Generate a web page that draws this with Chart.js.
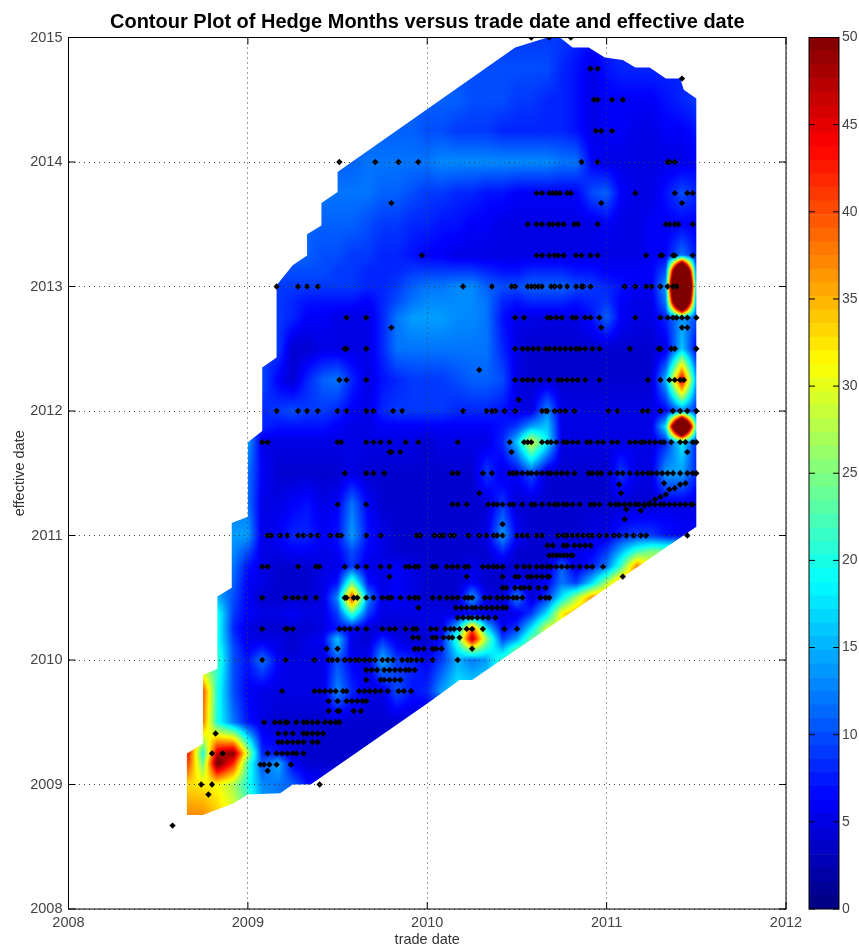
<!DOCTYPE html>
<html>
<head>
<meta charset="utf-8">
<title>Hedge Months</title>
<script src="https://cdn.jsdelivr.net/npm/chart.js@4"></script>
<style>
html, body { margin: 0; padding: 0; background: #fff; }
#wrap { position: relative; width: 859px; height: 945px; overflow: hidden; }
canvas { position: absolute; top: 0; }
</style>
</head>
<body>
<div id="wrap">
<canvas id="contourChart" width="859" height="945" style="left:0"></canvas>
<canvas id="barChart" width="59" height="945" style="left:800px"></canvas>
</div>
<script>
// monthly trade dates (columns of the field)
const tradeDates = [2008.67, 2008.75, 2008.83, 2008.92, 2009, 2009.08, 2009.17, 2009.25, 2009.33, 2009.42, 2009.5, 2009.58,
    2009.67, 2009.75, 2009.83, 2009.92, 2010, 2010.08, 2010.17, 2010.25, 2010.33, 2010.42, 2010.5, 2010.58,
    2010.67, 2010.75, 2010.83, 2010.92, 2011, 2011.08, 2011.17, 2011.25, 2011.33, 2011.42, 2011.5];

// effective dates (rows of the field)
const effectiveDates = [2008.75, 2009, 2009.17, 2009.25, 2009.5, 2009.75, 2010, 2010.08, 2010.17, 2010.25, 2010.37, 2010.5, 2010.62, 2010.75, 2010.87,
    2011, 2011.25, 2011.5, 2011.75, 2011.875, 2012, 2012.25, 2012.5, 2012.75, 2012.875, 2013, 2013.125, 2013.25,
    2013.5, 2013.75, 2014, 2014.25, 2014.5, 2014.75, 2015];

// hedge months, one row per effective date
const hedgeMonths = [
    [37,37,34,30,25,15,13,12,10,8,8,7, 7,7,7,7,7,7,7,7,7,7,7,7, 7,7,7,7,7,7,7,7,7,7,7],
    [33,32,31,27,20,13,12,11,7,6,6,6, 6,6,6,6,6,6,6,6,6,6,6,6, 6,6,6,6,6,6,6,6,6,6,6],
    [40,24,52,42,22,10,15,6,4,4,4,3, 4,4,4,4,4,4,4,4,4,4,4,4, 4,4,4,4,4,4,4,4,4,4,4],
    [42,20,47,50,28,8,7,5,4,4,4,4, 4,4,4,4,4,4,4,4,4,4,4,4, 4,4,4,4,4,4,4,4,4,4,4],
    [38,38,20,12,7,5,4,4,4,4,4,4, 4,4,4,4,4,4,4,4,4,4,4,4, 4,4,4,4,4,4,4,4,4,4,4],
    [40,40,20,10,6,5,5,5,5,5,13,8, 5,5,10,7,8,14,18,18,18,18,18,18, 18,18,18,18,18,18,18,18,18,18,18],
    [22,22,22,10,7,12,6,5,5,5,10,6, 5,15,9,8,6,9,15,12,14,22,22,22, 22,22,22,22,22,22,22,22,22,22,22],
    [21,21,21,10,6,8,5,4,5,5,14,5, 5,12,7,6,5,8,18,26,20,16,24,24, 24,24,24,24,24,24,24,24,24,24,24],
    [20,20,20,9,5,5,5,4,5,6,16,5, 4,8,5,4,4,7,22,48,26,9,14,24, 24,24,24,24,24,24,24,24,24,24,24],
    [20,20,20,8,5,4,4,4,4,5,7,6, 4,4,4,4,5,5,17,40,18,6,9,18, 30,30,30,30,30,30,30,30,30,30,30],
    [20,20,20,9,6,5,5,6,5,5,9,22, 9,5,5,5,5,5,5,6,5,5,5,9, 18,32,36,36,36,36,36,36,36,36,36],
    [15,15,15,10,6,4,4,4,4,5,13,42, 13,5,6,5,4,4,4,14,5,4,13,4, 9,18,27,37,37,37,37,37,37,37,37],
    [13,13,13,11,6,5,4,4,4,5,7,24, 7,5,6,5,4,4,4,6,4,4,6,4, 6,12,9,17,27,37,37,37,37,37,37],
    [12,12,12,12,7,5,4,4,4,5,5,9, 5,5,6,5,4,4,4,5,4,4,4,4, 4,11,5,8,12,22,38,30,25,25,25],
    [13,13,13,13,10,5,5,6,6,5,6,10, 6,5,4,4,4,4,4,4,4,8,4,4, 4,5,5,6,9,15,22,25,25,25,25],
    [14,14,14,14,14,5,6,8,8,6,7,14, 7,5,4,4,4,4,4,4,5,14,6,4, 4,4,4,5,5,8,9,9,7,6,6],
    [12,12,12,12,12,5,5,6,7,5,6,12, 6,4,4,4,4,4,4,4,4,9,4,4, 4,4,4,4,4,4,4,4,5,5,5],
    [12,12,12,12,12,6,4,4,4,4,4,5, 4,4,4,4,4,4,4,4,9,5,6,10, 4,4,4,4,4,9,5,5,14,14,8],
    [14,14,14,14,14,5,5,5,5,5,5,5, 5,5,5,5,4,5,5,5,5,8,16,30, 18,5,5,5,5,5,5,5,8,18,8],
    [10,10,10,10,10,8,7,7,7,7,6,5, 5,6,6,6,6,6,6,6,6,7,9,14, 16,5,5,5,5,5,5,5,18,95,20],
    [8,8,8,8,8,8,9,10,9,9,8,6, 5,8,9,9,9,9,8,8,8,7,5,5, 13,5,5,5,5,5,5,5,6,12,8],
    [10,10,10,10,10,10,6,4,8,11,12,8, 5,7,8,9,9,9,10,11,11,10,5,4, 4,4,4,4,4,4,4,4,15,46,14],
    [9,9,9,9,9,9,9,4,4,5,5,5, 5,8,12,12,12,12,12,12,12,8,5,4, 4,4,4,4,4,4,4,4,5,16,6],
    [9,9,9,9,9,9,9,8,6,6,5,5, 5,8,12,14,14,14,13,13,12,7,5,5, 5,5,5,7,11,6,5,5,8,14,10],
    [9,9,9,9,9,9,9,8,7,7,7,7, 6,8,10,12,13,13,13,13,12,8,7,8, 8,8,7,8,9,6,5,5,12,95,12],
    [9,9,9,9,9,9,9,9,9,9,9,9, 8,8,9,11,12,12,13,13,11,10,10,11, 11,11,10,9,8,7,6,6,14,130,14],
    [10,10,10,10,10,10,10,10,10,10,9,9, 8,8,8,9,9,9,9,9,8,7,7,8, 8,8,7,7,6,6,6,6,10,95,10],
    [11,11,11,11,11,11,11,11,11,10,10,9, 9,8,8,7,6,6,5,5,5,5,5,5, 5,5,5,5,5,5,5,6,6,12,7],
    [11,11,11,11,11,11,11,11,11,11,11,11, 10,9,9,8,8,7,7,6,6,5,5,5, 5,5,5,5,6,5,5,6,6,6,6],
    [12,12,12,12,12,12,12,12,12,12,12,12, 12,11,11,10,9,9,8,8,7,7,6,6, 6,6,6,10,11,6,5,5,7,10,8],
    [11,11,11,11,11,11,11,11,11,11,11,11, 12,12,12,12,12,13,13,13,13,13,13,13, 13,12,12,6,5,5,5,5,5,5,6],
    [11,11,11,11,11,11,11,11,11,11,11,11, 11,11,11,11,10,10,9,9,9,8,8,8, 8,8,7,5,6,6,5,5,6,6,7],
    [11,11,11,11,11,11,11,11,11,11,11,11, 11,11,11,11,11,11,11,10,10,10,9,9, 8,8,7,5,6,6,6,6,7,8,9],
    [10,10,10,10,10,10,10,10,10,10,10,10, 10,10,10,10,10,10,10,10,10,10,10,10, 10,8,7,5,7,8,8,8,8,8,8],
    [9,9,9,9,9,9,9,9,9,9,9,9, 9,9,9,9,9,9,9,9,9,9,9,9, 9,9,8,7,8,8,8,8,8,8,8]
];

// outline of the filled area
const outlineTrade = [2008.66, 2008.75, 2008.92, 2009.0, 2009.18, 2009.25, 2009.35, 2010.02, 2010.18, 2010.25, 2011.5, 2011.5,
    2011.43, 2011.41, 2011.33, 2011.24, 2011.16, 2011.09, 2010.99, 2010.9, 2010.81, 2010.74, 2010.67, 2010.49, 2009.5, 2009.5,
    2009.41, 2009.41, 2009.33, 2009.33, 2009.25, 2009.16, 2009.16, 2009.08, 2009.08, 2009.0, 2009.0, 2008.91, 2008.91,
    2008.83, 2008.83, 2008.75, 2008.75, 2008.66];
const outlineEffective = [2008.755, 2008.755, 2008.85, 2008.92, 2008.93, 2009.0, 2009.0, 2009.67, 2009.84, 2009.84, 2011.07, 2014.51,
    2014.58, 2014.67, 2014.67, 2014.76, 2014.76, 2014.82, 2014.84, 2014.92, 2014.92, 2015.0, 2015.0, 2014.92, 2013.92, 2013.76,
    2013.67, 2013.49, 2013.42, 2013.25, 2013.17, 2013.01, 2012.43, 2012.35, 2011.84, 2011.75, 2011.15, 2011.1, 2010.58,
    2010.51, 2009.93, 2009.88, 2009.33, 2009.25];

// observed trades: one effective date and the trade dates seen there
const dotEffective = [2015, 2014.75, 2014.67, 2014.5, 2014.25, 2014, 2013.75, 2013.67, 2013.5, 2013.25, 2013, 2012.75, 2012.67,
    2012.5, 2012.33, 2012.25, 2012.09, 2012, 2011.75, 2011.67, 2011.5, 2011.25, 2011, 2010.92, 2010.84, 2010.75, 2010.67, 2010.58,
    2010.5, 2010.42, 2010.34, 2010.25, 2010.18, 2010.09, 2010, 2009.92, 2009.84, 2009.75, 2009.67, 2009.59, 2009.5, 2009.41, 2009.34,
    2009.25, 2009.16, 2009.11, 2009, 2008.92, 2008.67];
const dotTrades = [
    [2010.58, 2010.68, 2010.8],
    [2010.91, 2010.95],
    [2011.42],
    [2010.93, 2010.95, 2011.03, 2011.09],
    [2010.94, 2010.97, 2011.03],
    [2009.51, 2009.71, 2009.84, 2009.95, 2010.86, 2010.95, 2011.34, 2011.35, 2011.38],
    [2010.61, 2010.64, 2010.68, 2010.7, 2010.72, 2010.74, 2010.78, 2010.8, 2011.16, 2011.38, 2011.45, 2011.48],
    [2009.8, 2010.97, 2011.42],
    [2010.56, 2010.61, 2010.64, 2010.68, 2010.7, 2010.73, 2010.76, 2010.82, 2010.84, 2010.95, 2011.33, 2011.35, 2011.38, 2011.4, 2011.48],
    [2009.97, 2010.61, 2010.64, 2010.68, 2010.71, 2010.73, 2010.76, 2010.83, 2010.86, 2010.91, 2010.95, 2011.22, 2011.3, 2011.31, 2011.37, 2011.38, 2011.48],
    [2009.16, 2009.28, 2009.33, 2009.39, 2010.2, 2010.36, 2010.47, 2010.49, 2010.56, 2010.58, 2010.6, 2010.62, 2010.64, 2010.69, 2010.71, 2010.74, 2010.78, 2010.83, 2010.86, 2010.87, 2010.91, 2011.1, 2011.16, 2011.22, 2011.25, 2011.3, 2011.34, 2011.37, 2011.39],
    [2009.55, 2009.66, 2010.49, 2010.54, 2010.67, 2010.69, 2010.72, 2010.75, 2010.81, 2010.83, 2010.88, 2010.91, 2010.96, 2011.16, 2011.3, 2011.34, 2011.37, 2011.39, 2011.42, 2011.45, 2011.5],
    [2009.8, 2010.97, 2011.42, 2011.45],
    [2009.54, 2009.55, 2009.66, 2010.49, 2010.53, 2010.56, 2010.59, 2010.62, 2010.66, 2010.68, 2010.71, 2010.74, 2010.77, 2010.8, 2010.83, 2010.85, 2010.88, 2010.92, 2010.96, 2011.13, 2011.29, 2011.3, 2011.36, 2011.38, 2011.5],
    [2010.29],
    [2009.51, 2009.55, 2009.66, 2010.49, 2010.53, 2010.56, 2010.59, 2010.63, 2010.68, 2010.73, 2010.75, 2010.78, 2010.81, 2010.84, 2010.88, 2010.96, 2011.23, 2011.3, 2011.35, 2011.38, 2011.41, 2011.43],
    [2010.51],
    [2009.16, 2009.28, 2009.33, 2009.39, 2009.5, 2009.55, 2009.66, 2009.7, 2009.81, 2009.86, 2010.2, 2010.33, 2010.36, 2010.38, 2010.43, 2010.49, 2010.64, 2010.66, 2010.67, 2010.71, 2010.74, 2010.77, 2010.82, 2011.01, 2011.06, 2011.2, 2011.23, 2011.3, 2011.37, 2011.41, 2011.45, 2011.5],
    [2009.08, 2009.11, 2009.5, 2009.52, 2009.66, 2009.7, 2009.74, 2009.79, 2009.88, 2009.95, 2010.17, 2010.46, 2010.54, 2010.56, 2010.58, 2010.64, 2010.67, 2010.69, 2010.72, 2010.76, 2010.78, 2010.81, 2010.84, 2010.89, 2010.91, 2010.95, 2010.98, 2011.03, 2011.06, 2011.13, 2011.16, 2011.19, 2011.21, 2011.24, 2011.27, 2011.3, 2011.32, 2011.36, 2011.41, 2011.44, 2011.48, 2011.5],
    [2009.79, 2009.8, 2009.85, 2010.47, 2011.45],
    [2009.54, 2009.66, 2009.7, 2009.76, 2010.14, 2010.17, 2010.31, 2010.36, 2010.46, 2010.48, 2010.5, 2010.53, 2010.56, 2010.58, 2010.61, 2010.64, 2010.67, 2010.69, 2010.72, 2010.75, 2010.78, 2010.82, 2010.9, 2010.92, 2010.95, 2010.97, 2011.02, 2011.06, 2011.09, 2011.13, 2011.17, 2011.2, 2011.23, 2011.25, 2011.28, 2011.31, 2011.34, 2011.37, 2011.41, 2011.45, 2011.48, 2011.5],
    [2009.5, 2009.66, 2010.14, 2010.17, 2010.22, 2010.34, 2010.37, 2010.39, 2010.42, 2010.46, 2010.48, 2010.53, 2010.58, 2010.6, 2010.64, 2010.68, 2010.71, 2010.73, 2010.76, 2010.78, 2010.81, 2010.85, 2010.91, 2010.93, 2010.96, 2011.02, 2011.05, 2011.07, 2011.1, 2011.13, 2011.16, 2011.18, 2011.21, 2011.24, 2011.27, 2011.3, 2011.32, 2011.35, 2011.38, 2011.41, 2011.44, 2011.47, 2011.48],
    [2009.11, 2009.13, 2009.18, 2009.22, 2009.28, 2009.31, 2009.35, 2009.39, 2009.46, 2009.5, 2009.52, 2009.66, 2009.74, 2009.94, 2009.96, 2010.04, 2010.07, 2010.09, 2010.13, 2010.15, 2010.23, 2010.29, 2010.33, 2010.37, 2010.39, 2010.42, 2010.5, 2010.53, 2010.56, 2010.61, 2010.64, 2010.73, 2010.76, 2010.78, 2010.81, 2010.84, 2010.87, 2010.9, 2010.92, 2010.96, 2011.0, 2011.04, 2011.07, 2011.11, 2011.15, 2011.19, 2011.22, 2011.45],
    [2010.67, 2010.7, 2010.76, 2010.78, 2010.82, 2010.85, 2010.88, 2010.91],
    [2010.68, 2010.7, 2010.72, 2010.74, 2010.76, 2010.78, 2010.8, 2010.81],
    [2009.08, 2009.11, 2009.28, 2009.38, 2009.4, 2009.54, 2009.61, 2009.66, 2009.74, 2009.79, 2009.88, 2009.9, 2009.93, 2009.95, 2010.03, 2010.05, 2010.11, 2010.14, 2010.17, 2010.21, 2010.23, 2010.31, 2010.34, 2010.37, 2010.39, 2010.42, 2010.5, 2010.54, 2010.57, 2010.61, 2010.64, 2010.67, 2010.69, 2010.72, 2010.75, 2010.78, 2010.81, 2010.85, 2010.89, 2010.92, 2010.98],
    [2009.79, 2010.22, 2010.42, 2010.49, 2010.51, 2010.56, 2010.58, 2010.61, 2010.64, 2010.67, 2010.68, 2011.09],
    [2010.42, 2010.44, 2010.49, 2010.52, 2010.54, 2010.57, 2010.62, 2010.66],
    [2009.08, 2009.21, 2009.25, 2009.28, 2009.32, 2009.38, 2009.54, 2009.55, 2009.59, 2009.61, 2009.66, 2009.7, 2009.75, 2009.78, 2009.8, 2009.85, 2009.9, 2009.93, 2009.95, 2010.03, 2010.07, 2010.11, 2010.14, 2010.17, 2010.21, 2010.23, 2010.25, 2010.32, 2010.35, 2010.39, 2010.42, 2010.45, 2010.48, 2010.5, 2010.53, 2010.63, 2010.66, 2010.68],
    [2009.95, 2010.16, 2010.19, 2010.22, 2010.25, 2010.27, 2010.3, 2010.33, 2010.36, 2010.39, 2010.42, 2010.44],
    [2010.17, 2010.2, 2010.23, 2010.25, 2010.28, 2010.31, 2010.34, 2010.38],
    [2009.08, 2009.21, 2009.22, 2009.25, 2009.51, 2009.54, 2009.57, 2009.61, 2009.66, 2009.75, 2009.79, 2009.82, 2009.88, 2009.92, 2009.94, 2010.02, 2010.05, 2010.1, 2010.13, 2010.15, 2010.18, 2010.22, 2010.25, 2010.31, 2010.43, 2010.5],
    [2009.92, 2009.95, 2010.03, 2010.05, 2010.09, 2010.12, 2010.14, 2010.18],
    [2009.44, 2009.5, 2009.93, 2009.95, 2009.98, 2010.03, 2010.05, 2010.08, 2010.25],
    [2009.08, 2009.21, 2009.37, 2009.45, 2009.47, 2009.5, 2009.54, 2009.57, 2009.6, 2009.62, 2009.65, 2009.68, 2009.71, 2009.75, 2009.78, 2009.81, 2009.86, 2009.89, 2009.91, 2009.94, 2009.97, 2010.03, 2010.17],
    [2009.66, 2009.69, 2009.72, 2009.76, 2009.79, 2009.82, 2009.85, 2009.88, 2009.9, 2009.93],
    [2009.66, 2009.74, 2009.76, 2009.79, 2009.82, 2009.85],
    [2009.19, 2009.37, 2009.4, 2009.43, 2009.46, 2009.49, 2009.53, 2009.55, 2009.62, 2009.65, 2009.68, 2009.71, 2009.74, 2009.78, 2009.84, 2009.87, 2009.91],
    [2009.45, 2009.5, 2009.55, 2009.58, 2009.61, 2009.64, 2009.66],
    [2009.45, 2009.5, 2009.51, 2009.59, 2009.63],
    [2009.09, 2009.15, 2009.18, 2009.21, 2009.22, 2009.27, 2009.31, 2009.33, 2009.36, 2009.39, 2009.43, 2009.46, 2009.49, 2009.51],
    [2008.82, 2009.17, 2009.21, 2009.25, 2009.31, 2009.33, 2009.36, 2009.39, 2009.42],
    [2009.17, 2009.19, 2009.22, 2009.25, 2009.28, 2009.31, 2009.36, 2009.39],
    [2008.8, 2008.86, 2009.11, 2009.16, 2009.19, 2009.22, 2009.25, 2009.27, 2009.31],
    [2009.07, 2009.09, 2009.12, 2009.16, 2009.24],
    [2009.11],
    [2008.74, 2008.8, 2009.4],
    [2008.78],
    [2008.58]
];
// the close run of trades climbing towards June 2011
const runTrade = [2011.19, 2011.21, 2011.24, 2011.27, 2011.3, 2011.33, 2011.35, 2011.38, 2011.41, 2011.44, 2011.32, 2011.07, 2011.08, 2010.29, 2011.1, 2011.11, 2010.42];
const runEffective = [2011.2, 2011.24, 2011.26, 2011.29, 2011.31, 2011.33, 2011.37, 2011.38, 2011.41, 2011.42, 2011.42, 2011.41, 2011.34, 2011.34, 2011.13, 2011.21, 2011.09];

const xTicks = [2008, 2009, 2010, 2011, 2012];
const yTicks = [2008, 2009, 2010, 2011, 2012, 2013, 2014, 2015];
const barTicks = [0, 5, 10, 15, 20, 25, 30, 35, 40, 45, 50];

// MATLAB jet, v from 0 to 50
function jet(v) {
    var t = Math.max(0, Math.min(1, v / 50));
    function ch(c) { return Math.round(255 * Math.max(0, Math.min(1, 1.5 - Math.abs(4 * t - c)))); }
    return [ch(3), ch(2), ch(1)];
}

function lowerIndex(list, v) {
    var i = 0;
    while (i < list.length - 2 && list[i + 1] <= v) i++;
    return i;
}

// shaded field, painted between the grid and the dots
const fieldPlugin = {
    id: 'field',
    beforeDatasetsDraw(chart) {
        var ctx = chart.ctx, a = chart.chartArea, xs = chart.scales.x, ys = chart.scales.y;
        var w = Math.round(a.right - a.left), h = Math.round(a.bottom - a.top);
        var off = document.createElement('canvas');
        off.width = w; off.height = h;
        var octx = off.getContext('2d');
        var img = octx.createImageData(w, h);
        for (var py = 0; py < h; py++) {
            var e = ys.getValueForPixel(a.top + py + 0.5);
            var r = lowerIndex(effectiveDates, e);
            var fy = Math.max(0, Math.min(1, (e - effectiveDates[r]) / (effectiveDates[r + 1] - effectiveDates[r])));
            for (var px = 0; px < w; px++) {
                var d = xs.getValueForPixel(a.left + px + 0.5);
                var c = lowerIndex(tradeDates, d);
                var fx = Math.max(0, Math.min(1, (d - tradeDates[c]) / (tradeDates[c + 1] - tradeDates[c])));
                var v = (1 - fy) * ((1 - fx) * hedgeMonths[r][c] + fx * hedgeMonths[r][c + 1]) +
                    fy * ((1 - fx) * hedgeMonths[r + 1][c] + fx * hedgeMonths[r + 1][c + 1]);
                var rgb = jet(v), k = (py * w + px) * 4;
                img.data[k] = rgb[0]; img.data[k + 1] = rgb[1]; img.data[k + 2] = rgb[2]; img.data[k + 3] = 255;
            }
        }
        octx.putImageData(img, 0, 0);
        ctx.save();
        ctx.beginPath();
        outlineTrade.forEach(function (t, i) {
            var x = xs.getPixelForValue(t), y = ys.getPixelForValue(outlineEffective[i]);
            if (i === 0) ctx.moveTo(x, y); else ctx.lineTo(x, y);
        });
        ctx.closePath();
        ctx.clip();
        ctx.drawImage(off, a.left, a.top);
        ctx.restore();
    }
};

// box round the axes with short inward ticks
const framePlugin = {
    id: 'frame',
    afterDraw(chart) {
        var ctx = chart.ctx, a = chart.chartArea, len = chart.options.plugins.frame.tick;
        ctx.save();
        ctx.strokeStyle = chart.options.plugins.frame.color;
        ctx.lineWidth = 1;
        ctx.strokeRect(a.left, a.top, a.right - a.left, a.bottom - a.top);
        ctx.beginPath();
        Object.keys(chart.scales).forEach(function (id) {
            var s = chart.scales[id];
            if (!s.options.display) return;
            s.ticks.forEach(function (t) {
                var p = s.getPixelForValue(t.value);
                if (s.isHorizontal()) {
                    ctx.moveTo(p, a.bottom); ctx.lineTo(p, a.bottom - len);
                    ctx.moveTo(p, a.top); ctx.lineTo(p, a.top + len);
                } else {
                    ctx.moveTo(a.left, p); ctx.lineTo(a.left + len, p);
                    ctx.moveTo(a.right, p); ctx.lineTo(a.right - len, p);
                }
            });
        });
        ctx.stroke();
        ctx.restore();
    }
};

var dots = [];
dotEffective.forEach(function (e, i) {
    dotTrades[i].forEach(function (t) { dots.push({ x: t, y: e }); });
});
runTrade.forEach(function (t, i) { dots.push({ x: t, y: runEffective[i] }); });

const axisFont = { family: 'Liberation Sans, Arial, sans-serif', size: 14.5, lineHeight: 1 };
const dotGrid = { color: '#444', lineWidth: 1, drawTicks: false, z: 1 };

new Chart(document.getElementById('contourChart').getContext('2d'), {
    type: 'scatter',
    data: {
        datasets: [{
            data: dots,
            pointStyle: 'rectRot',
            pointRadius: 3.2,
            backgroundColor: '#000',
            borderColor: '#000',
            borderWidth: 0
        }]
    },
    plugins: [fieldPlugin, framePlugin],
    options: {
        responsive: false,
        animation: false,
        devicePixelRatio: 1,
        layout: { padding: { left: 0, right: 73, top: 0, bottom: 0 } },
        plugins: {
            legend: { display: false },
            tooltip: { enabled: false },
            frame: { tick: 7, color: '#000' },
            title: {
                display: true,
                fullSize: false,
                text: 'Contour Plot of Hedge Months versus trade date and effective date',
                color: '#000',
                font: { family: 'Liberation Sans, Arial, sans-serif', size: 20, weight: 'bold', lineHeight: 1 },
                padding: { top: 12, bottom: 5.5 }
            }
        },
        scales: {
            x: {
                type: 'linear', min: 2008, max: 2012,
                afterBuildTicks(s) { s.ticks = xTicks.map(function (v) { return { value: v }; }); },
                afterFit(s) { s.height = 36; },
                ticks: { color: '#444', font: axisFont, padding: 7, maxRotation: 0, callback: function (v) { return String(v); } },
                grid: dotGrid,
                border: { display: false, dash: [1, 4] },
                title: { display: true, text: 'trade date', color: '#333', font: axisFont, padding: { top: 0, bottom: -2 } }
            },
            y: {
                type: 'linear', min: 2008, max: 2015,
                afterBuildTicks(s) { s.ticks = yTicks.map(function (v) { return { value: v }; }); },
                afterFit(s) { s.width = 68.5; },
                ticks: { color: '#444', font: axisFont, padding: 6, callback: function (v) { return String(v); } },
                grid: dotGrid,
                border: { display: false, dash: [1, 4] },
                title: { display: true, text: 'effective date', color: '#333', font: axisFont, padding: { top: 13, bottom: 0 } }
            }
        }
    }
});

// colour bar: 64 stacked levels on a 0-50 axis
const barLevels = [];
for (var i = 0; i < 64; i++) barLevels.push(i);
new Chart(document.getElementById('barChart').getContext('2d'), {
    type: 'bar',
    data: {
        labels: ['Hedge Months'],
        datasets: barLevels.map(function (n) {
            var c = jet((n + 0.5) * 50 / 64);
            return { data: [50 / 64], backgroundColor: 'rgb(' + c.join(',') + ')', borderWidth: 0, barPercentage: 1, categoryPercentage: 1 };
        })
    },
    plugins: [framePlugin],
    options: {
        responsive: false,
        animation: false,
        devicePixelRatio: 1,
        layout: { padding: { left: 9, right: 0, top: 37.5, bottom: 36 } },
        plugins: {
            legend: { display: false },
            tooltip: { enabled: false },
            frame: { tick: 6, color: '#000' }
        },
        scales: {
            x: { stacked: true, display: false },
            y: {
                stacked: true, position: 'right', min: 0, max: 50,
                afterBuildTicks(s) { s.ticks = barTicks.map(function (v) { return { value: v }; }); },
                afterFit(s) { s.width = 20; },
                ticks: { color: '#444', font: { family: axisFont.family, size: 14 }, padding: 3 },
                grid: { display: false, drawTicks: false },
                border: { display: false }
            }
        }
    }
});
</script>
</body>
</html>
